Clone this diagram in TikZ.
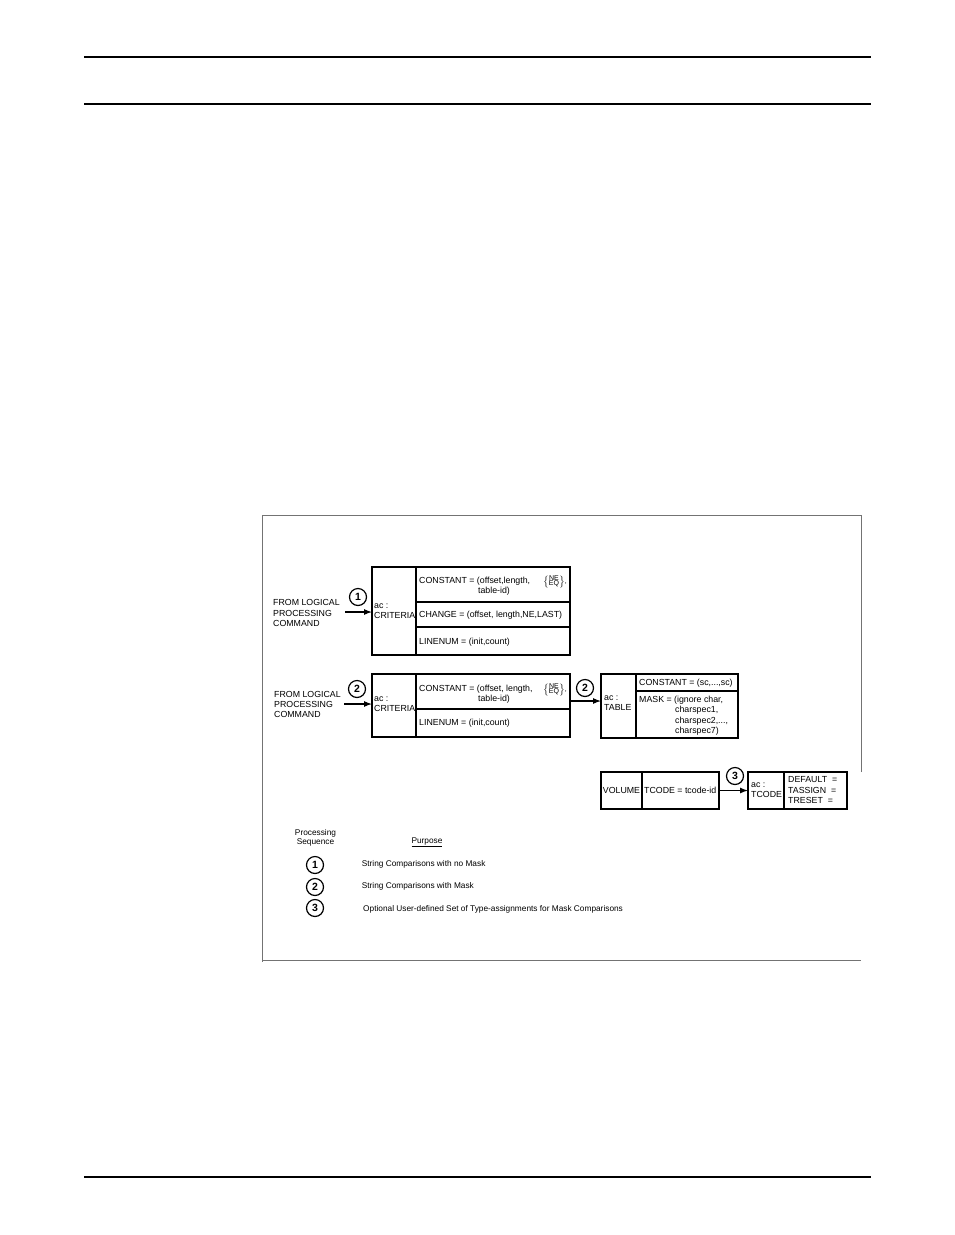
\documentclass[tikz,border=0pt]{standalone}
\usepackage{fontspec}
\setmainfont{Liberation Sans}
\usetikzlibrary{arrows.meta}
\begin{document}
\begin{tikzpicture}[x=1pt,y=-1pt,
  cell/.style={draw,line width=1.1pt,inner sep=0pt,outer sep=0pt,anchor=north west},
  txt/.style={inner sep=0pt,anchor=west,font=\fontsize{8.8}{10}\selectfont,align=left},
  ltxt/.style={inner sep=0pt,anchor=west,font=\fontsize{8.3}{9}\selectfont},
  brc/.style={inner sep=0pt,font=\fontsize{7}{7}\selectfont},
  num/.style={draw,circle,line width=1.2pt,minimum size=17pt,inner sep=0pt,font=\fontsize{10.5}{10.5}\selectfont\bfseries},
  arr/.style={line width=1.1pt,-{Latex[length=8pt,width=6pt]}},
  framed/.style={line width=0.8pt,black!55},
  rulel/.style={line width=1.3pt}]
\useasboundingbox (0,0) rectangle (954,1235);
% page rules
\draw[rulel] (84,57) -- (871,57);
\draw[rulel] (84,104) -- (871,104);
\draw[rulel] (84,1177) -- (871,1177);
% frame
\draw[framed] (861,772) -- (861,515) -- (262,515) -- (262,962);
\draw[framed] (263,960) -- (861,960);

% ---- box 1
\node[cell,minimum width=44pt,minimum height=88pt] (c1l) at (372,567) {};
\node[cell,minimum width=154pt,minimum height=35pt] (c1a) at (416,567) {};
\node[cell,minimum width=154pt,minimum height=25pt] (c1b) at (416,602) {};
\node[cell,minimum width=154pt,minimum height=28pt] (c1c) at (416,627) {};
\node[txt] (c1lt) at (374,611) {ac :\\CRITERIA};
\node[txt] (c1at) at (419,581) {CONSTANT = (offset,length,};
\node[txt,anchor=center] (c1at2) at (494,591.5) {table-id)};
\node[brc] (c1ne) at (555,582) {$\left\{\begin{array}{@{}c@{}}\mbox{NE}\\[-2pt]\mbox{EQ}\end{array}\right\}$,};
\node[txt] (c1bt) at (419,615) {CHANGE = (offset, length,NE,LAST)};
\node[txt] (c1ct) at (419,642) {LINENUM = (init,count)};

\node[txt,font=\fontsize{8.8}{10.5}\selectfont] (f1) at (273,613) {FROM LOGICAL\\PROCESSING\\COMMAND};
\node[num] (n1) at (358,597) {1};
\coordinate (s1) at (345,612);
\draw[arr] (s1) -- (s1 -| c1l.west);

% ---- box 2
\node[cell,minimum width=44pt,minimum height=63pt] (c2l) at (372,674) {};
\node[cell,minimum width=154pt,minimum height=35pt] (c2a) at (416,674) {};
\node[cell,minimum width=154pt,minimum height=28pt] (c2b) at (416,709) {};
\node[txt] (c2lt) at (374,704) {ac :\\CRITERIA};
\node[txt] (c2at) at (419,689) {CONSTANT = (offset, length,};
\node[txt,anchor=center] (c2at2) at (494,699.5) {table-id)};
\node[brc] (c2ne) at (555,690) {$\left\{\begin{array}{@{}c@{}}\mbox{NE}\\[-2pt]\mbox{EQ}\end{array}\right\}$,};
\node[txt] (c2bt) at (419,723) {LINENUM = (init,count)};

\node[txt] (f2) at (274,704) {FROM LOGICAL\\PROCESSING\\COMMAND};
\node[num] (n2) at (357,689) {2};
\coordinate (s2) at (344,704);
\draw[arr] (s2) -- (s2 -| c2l.west);

% ---- table
\node[cell,minimum width=35pt,minimum height=64pt] (tl) at (601,674) {};
\node[cell,minimum width=102pt,minimum height=17pt] (ta) at (636,674) {};
\node[cell,minimum width=102pt,minimum height=47pt] (tb) at (636,691) {};
\node[txt] (tlt) at (604,703) {ac :\\TABLE};
\node[txt] (tat) at (639,683) {CONSTANT = (sc,...,sc)};
\node[txt] (tbt1) at (639,700) {MASK = (ignore char,};
\node[txt] (tbt2) at (675,710.5) {charspec1,};
\node[txt] (tbt3) at (675,721) {charspec2,...,};
\node[txt] (tbt4) at (675,731) {charspec7)};
\node[num] (n2b) at (585,688) {2};
\draw[arr] (c2a.east |- 0,701) -- (tl.west |- 0,701);

% ---- volume / tcode
\node[cell,minimum width=41pt,minimum height=37pt] (vl) at (601,772) {};
\node[cell,minimum width=77pt,minimum height=37pt] (vr) at (642,772) {};
\node[txt,anchor=center] (vlt) at (vl.center) {VOLUME};
\node[txt] (vrt) at (644,790) {TCODE = tcode-id};
\node[cell,minimum width=36pt,minimum height=37pt] (tcl) at (748,772) {};
\node[cell,minimum width=63pt,minimum height=37pt] (tcr) at (784,772) {};
\node[txt] (tclt) at (751,790) {ac :\\TCODE};
\node[txt,font=\fontsize{8.8}{10.5}\selectfont] (tcrt) at (788,790.5) {DEFAULT \ =\\TASSIGN \ =\\TRESET \ =};
\node[num] (n3) at (735,776) {3};
\draw[arr] (vr.east) -- (tcl.west);

% ---- legend
\node[ltxt,anchor=center,align=center] (lps) at (315.5,837.5) {Processing\\Sequence};
\node[ltxt,anchor=center] (lpu) at (427,842) {\underline{Purpose}};
\node[num] (l1) at (315,865) {1};
\node[num] (l2) at (315,887) {2};
\node[num] (l3) at (315,908) {3};
\node[ltxt] (lt1) at (361.6,864) {String Comparisons with no Mask};
\node[ltxt] (lt2) at (361.6,886) {String Comparisons with Mask};
\node[ltxt] (lt3) at (363,909) {Optional User-defined Set of Type-assignments for Mask Comparisons};
\end{tikzpicture}
\end{document}
